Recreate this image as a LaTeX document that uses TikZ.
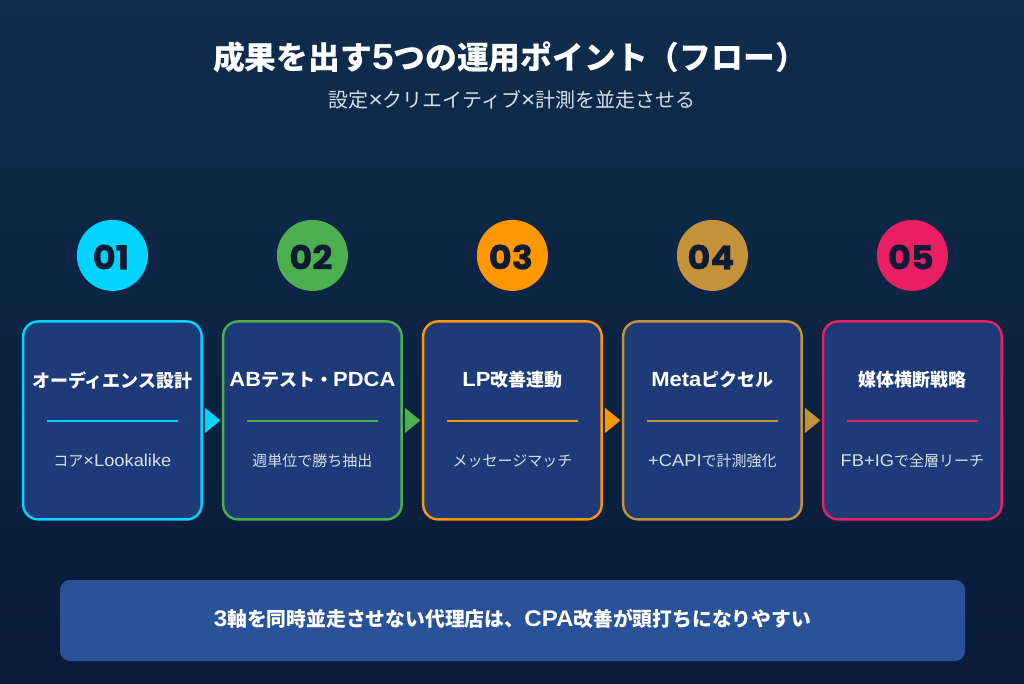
\documentclass[tikz,border=0pt]{standalone}
\usepackage{fontspec}
\setmainfont{Noto Sans CJK JP}
\newfontfamily\lat[Scale=1.14,FakeStretch=1.07]{Liberation Sans}
\newfontfamily\numf[FakeStretch=1.07,FakeBold=0.8]{Poppins Bold}
\newcommand{\LL}[1]{{\lat #1}}
\definecolor{bgtop}{HTML}{0F2D4D}
\definecolor{bgbot}{HTML}{0A1A3A}
\definecolor{card}{HTML}{1E3A78}
\definecolor{cA}{HTML}{00D4FF}
\definecolor{cB}{HTML}{4CAF50}
\definecolor{cC}{HTML}{FF9800}
\definecolor{cD}{HTML}{C49239}
\definecolor{cE}{HTML}{E91E63}
\definecolor{band}{HTML}{2A5298}
\definecolor{sub}{HTML}{D6E0EA}
\definecolor{ink}{HTML}{0F1B33}
\tikzset{x=1pt,y=-1pt,
 cardbox/.style={draw=#1,fill=card,line width=2.4pt,rounded corners=15pt,minimum width=178.5pt,minimum height=198pt,inner sep=0pt},
 numdot/.style={circle,fill=#1,minimum size=71pt,inner sep=0pt},
 numtext/.style={inner sep=0pt,text=ink,font=\numf\fontsize{33}{33}\selectfont},
 head/.style={text=white,font=\bfseries\fontsize{18}{18}\selectfont,inner sep=0pt},
 body/.style={text=sub,font=\fontsize{15}{15}\selectfont,inner sep=0pt},
 tip/.style={fill=#1,draw=none}}
\begin{document}
\begin{tikzpicture}
\useasboundingbox (0,0) rectangle (1024,683);
\shade[top color=bgtop,bottom color=bgbot] (0,0) rectangle (1024,683);
\node[inner sep=0pt,text=white,font=\bfseries\fontsize{31.8}{32}\selectfont] (title) at (510,57) {成果を出す\LL{5}つの運用ポイント（フロー）};
\node[inner sep=0pt,text=sub,font=\fontsize{20}{20}\selectfont] (subtitle) at (512,100) {設定\LL{×}クリエイティブ\LL{×}計測を並走させる};
\foreach \n/\cx/\col/\num/\h/\b in {
 a/112.4/cA/01/オーディエンス設計/コア\LL{×Lookalike},
 b/312.4/cB/02/\LL{AB}テスト・\LL{PDCA}/週単位で勝ち抽出,
 c/512.4/cC/03/\LL{LP}改善連動/メッセージマッチ,
 d/712.4/cD/04/\LL{Meta}ピクセル/\LL{+CAPI}で計測強化,
 e/912.4/cE/05/媒体横断戦略/\LL{FB+IG}で全層リーチ}{
 \node[numdot=\col] (dot\n) at (\cx,255.4) {};
 \node[numtext] (num\n) at (\cx-1.5,257) {\num};
 \node[cardbox=\col] (card\n) at (\cx,420.4) {};
 \node[head] (head\n) at (\cx,380) {\h};
 \node[body] (body\n) at (\cx,461) {\b};
 \coordinate (ruleL\n) at (\cx-65.5,421);
 \coordinate (ruleR\n) at (\cx+65.5,421);
 \draw[\col,line width=1.6pt] (ruleL\n) -- (ruleR\n);
}
\foreach \p/\col in {a/cA,b/cB,c/cC,d/cD}{
 \fill[tip=\col] ([xshift=2pt,yshift=-12.7pt]card\p.east) -- ([xshift=17.5pt]card\p.east) -- ([xshift=2pt,yshift=12.7pt]card\p.east) -- cycle;
}
\node[fill=band,rounded corners=10pt,minimum width=905pt,minimum height=81pt,inner sep=0pt] (banner) at (512.5,620.5) {};
\node[inner sep=0pt,text=white,font=\bfseries\fontsize{19.8}{20}\selectfont] (bannertext) at (512.5,619) {\LL{3}軸を同時並走させない代理店は、\LL{CPA}改善が頭打ちになりやすい};
\end{tikzpicture}
\end{document}
